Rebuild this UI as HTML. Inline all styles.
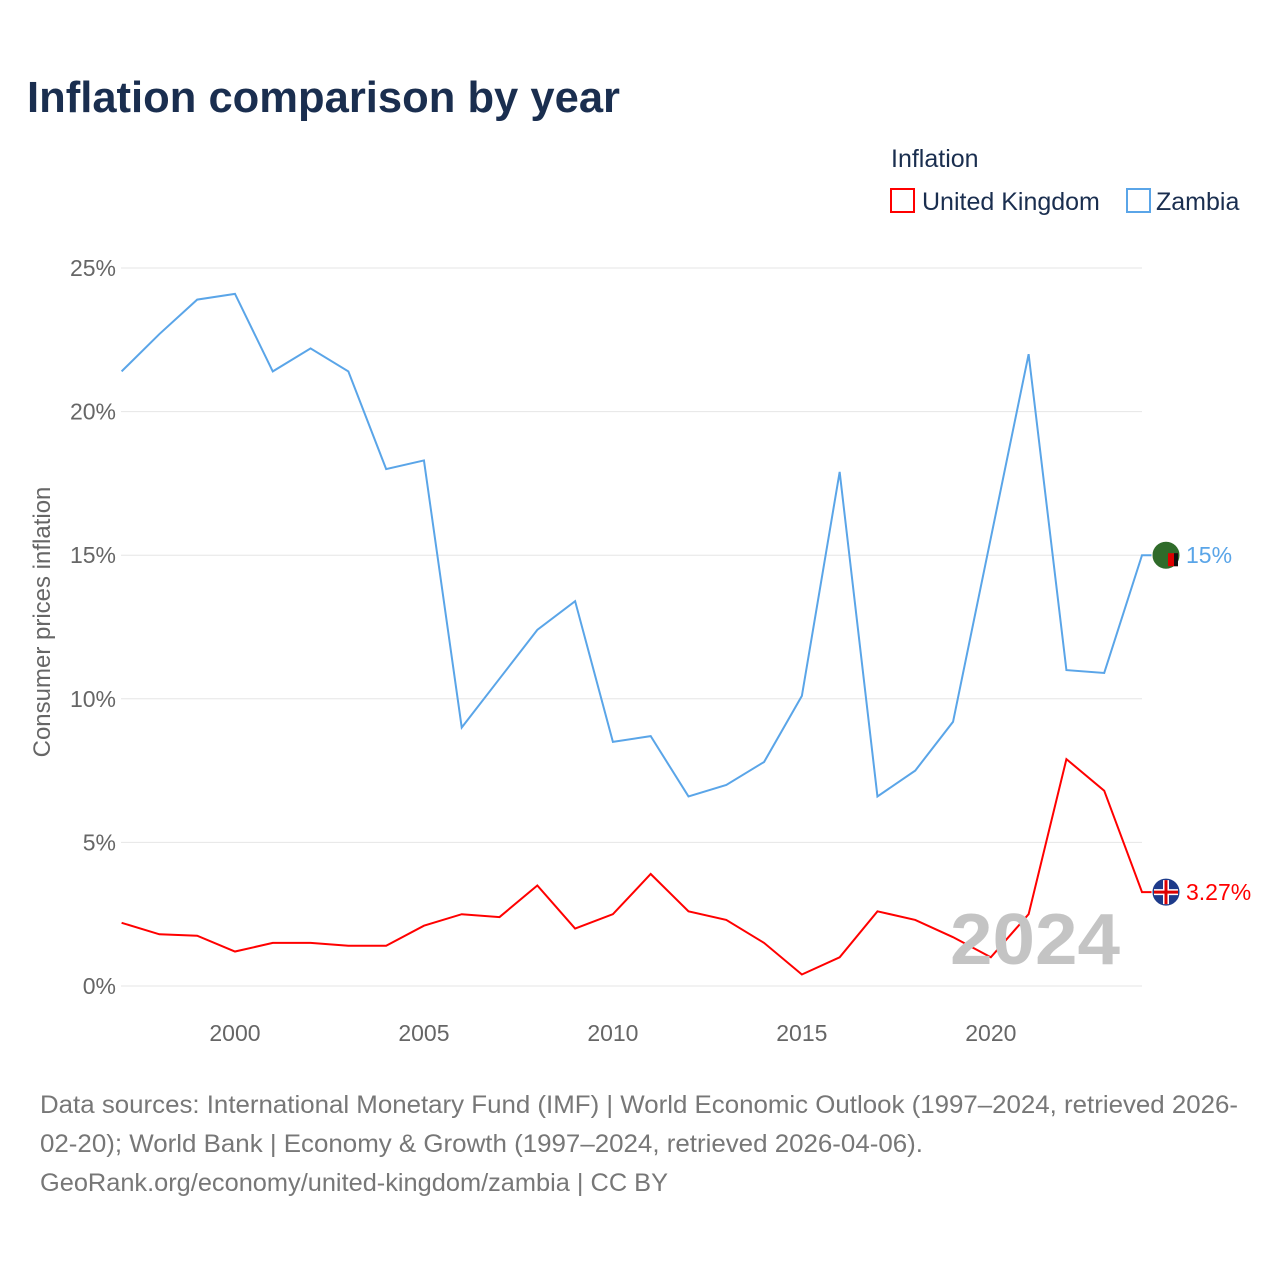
<!DOCTYPE html>
<html><head><meta charset="utf-8"><style>
body{margin:0;background:#fff;font-family:"Liberation Sans",sans-serif;}
</style></head><body>
<svg width="1280" height="1280" viewBox="0 0 1280 1280">
<text x="27" y="112" font-size="44" font-weight="bold" fill="#1a2e4f" textLength="593" lengthAdjust="spacingAndGlyphs">Inflation comparison by year</text>
<text x="891" y="167" font-size="25" fill="#1a2e4f">Inflation</text>
<g><rect x="891" y="189" width="23" height="23" fill="none" stroke="#ff0000" stroke-width="2"/><text x="922" y="210" font-size="25" fill="#1a2e4f">United Kingdom</text></g>
<g><rect x="1127" y="189" width="23" height="23" fill="none" stroke="#5aa5e8" stroke-width="2"/><text x="1156" y="210" font-size="25" fill="#1a2e4f">Zambia</text></g>
<g id="grid"></g><g id="lines"></g>
<text x="950" y="964" font-size="72" font-weight="bold" fill="#c4c4c4" textLength="170" lengthAdjust="spacingAndGlyphs">2024</text>
<text transform="translate(50,622) rotate(-90)" text-anchor="middle" font-size="24" fill="#666">Consumer prices inflation</text>
<text x="40" y="1113" font-size="25" fill="#777" textLength="1198" lengthAdjust="spacingAndGlyphs">Data sources: International Monetary Fund (IMF) | World Economic Outlook (1997–2024, retrieved 2026-</text>
<text x="40" y="1152" font-size="25" fill="#777" textLength="883" lengthAdjust="spacingAndGlyphs">02-20); World Bank | Economy &amp; Growth (1997–2024, retrieved 2026-04-06).</text>
<text x="40" y="1191" font-size="25" fill="#777" textLength="628" lengthAdjust="spacingAndGlyphs">GeoRank.org/economy/united-kingdom/zambia | CC BY</text>
</svg>
<script>
const years=[1997,1998,1999,2000,2001,2002,2003,2004,2005,2006,2007,2008,2009,2010,2011,2012,2013,2014,2015,2016,2017,2018,2019,2020,2021,2022,2023,2024];
const zambia=[21.4,22.7,23.9,24.1,21.4,22.2,21.4,18.0,18.3,9.0,10.7,12.4,13.4,8.5,8.7,6.6,7.0,7.8,10.1,17.9,6.6,7.5,9.2,15.6,22.0,11.0,10.9,15.0];
const uk=[2.2,1.8,1.75,1.2,1.5,1.5,1.4,1.4,2.1,2.5,2.4,3.5,2.0,2.5,3.9,2.6,2.3,1.5,0.4,1.0,2.6,2.3,1.7,1.0,2.5,7.9,6.8,3.27];
const yTicks=[0,5,10,15,20,25];
const xTicks=[2000,2005,2010,2015,2020];
const X=y=>121.6+(y-1997)*(1142-121.6)/27;
const Y=v=>986-v*(986-268)/25;
const NS='http://www.w3.org/2000/svg';
const grid=document.getElementById('grid'),lines=document.getElementById('lines');
function mk(t,a,p){const e=document.createElementNS(NS,t);for(const k in a)e.setAttribute(k,a[k]);p.appendChild(e);return e;}
yTicks.forEach(v=>{
 const l=mk('line',{x1:121,x2:1142,y1:Y(v),y2:Y(v),stroke:'#e6e6e6','stroke-width':1},grid);
 
 
 const t=mk('text',{x:116,y:Y(v)+8,'text-anchor':'end','font-size':23,fill:'#666'},grid);
 t.textContent=v+'%';
 
 
});
xTicks.forEach(v=>{
 const t=mk('text',{x:X(v),y:1041,'text-anchor':'middle','font-size':23,fill:'#666'},grid);
 t.textContent=v;
 
 
});
function series(vals,color,name,label){
 let d=vals.map((v,i)=>(i?'L':'M')+X(years[i])+','+Y(vals[i])).join('');
 const last=vals[vals.length-1];
 d+='L'+(X(2024)+10)+','+Y(last);
 const p=mk('path',{d:d,fill:'none',stroke:color,'stroke-width':2},lines);
 
 
 const c=mk('circle',{cx:1166,cy:Y(last),r:14,fill:name==='zambia'?'#2f6b2a':'#1d3a8a',stroke:'#fff','stroke-width':1},lines);
 
 
 if(name==='uk'){
  mk('path',{d:`M1154,${Y(last)}h24M1166,${Y(last)-12}v24`,stroke:'#fff','stroke-width':6},lines);
  mk('path',{d:`M1154,${Y(last)}h24M1166,${Y(last)-12}v24`,stroke:'#d00','stroke-width':3},lines);
 } else {
  mk('rect',{x:1168,y:Y(last)-2,width:10,height:13,fill:'#d00'},lines);
  mk('rect',{x:1174,y:Y(last)-2,width:4,height:13,fill:'#111'},lines);
 }
 const t=mk('text',{x:1186,y:Y(last)+8,'font-size':23,fill:color},lines);
 t.textContent=label;
 
 
}
series(zambia,'#5aa5e8','zambia','15%');
series(uk,'#ff0000','uk','3.27%');
</script>
</body></html>
